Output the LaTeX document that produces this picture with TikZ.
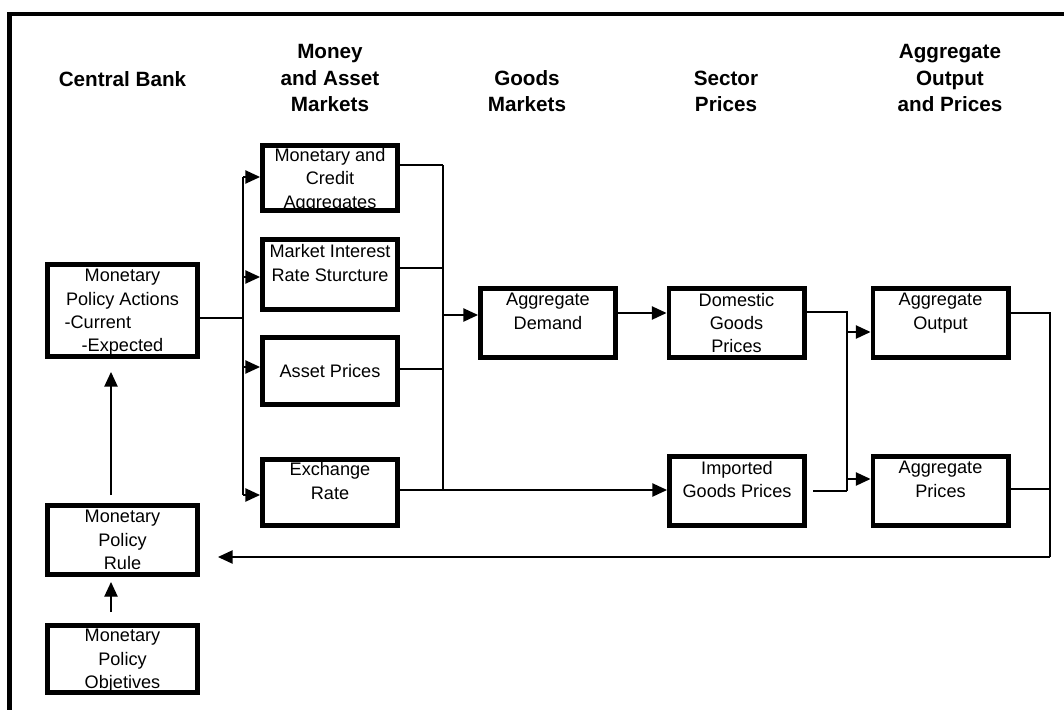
\documentclass[tikz,border=0pt]{standalone}
\usepackage{fontspec}
\setmainfont{Liberation Sans}
\usetikzlibrary{arrows.meta}

\tikzset{
  blk/.style={draw, line width=3.4pt, align=center, inner sep=0pt,
    minimum width=101.6pt, minimum height=52.1pt,
    font=\fontsize{13.6pt}{17.6pt}\selectfont},
  cbk/.style={blk, minimum width=112.8pt},
  hdr/.style={anchor=south, align=center, inner sep=0pt,
    font=\bfseries\fontsize{15.5pt}{19.8pt}\selectfont},
  wire/.style={line width=1pt},
}

\begin{document}
\begin{tikzpicture}[x=0.75pt,y=-0.75pt,>={Triangle[length=11pt,width=10pt]}]
\useasboundingbox (0,0) rectangle (1064,710);
% ---- frame, cut at the right and at the bottom ----
\draw[line width=3.6pt] (9.5,710) -- (9.5,14) -- (1064,14);
% ---- column heads ----
\node[hdr] (hcb)  at (122.5,87) {Central Bank};
\node[hdr] (hmam) at (330,112)  {Money\\and Asset\\Markets};
\node[hdr] (hgm)  at (527,112)  {Goods\\Markets};
\node[hdr] (hsp)  at (726,112)  {Sector\\Prices};
\node[hdr] (hao)  at (950,112)  {Aggregate\\Output\\and Prices};
% ---- central bank ----
\node[cbk, minimum height=69.3pt] (act) at (122.5,310.5)
  {Monetary\\Policy Actions\\-Current\hspace*{37pt}\mbox{}\\\smash{-Expected}};
\node[cbk] (rule) at (122.5,540) {Monetary\\Policy\\Rule};
\node[cbk, minimum height=50.6pt] (obj) at (122.5,659) {Monetary\\Policy\\\smash{Objetives}};
% ---- money and asset markets ----
\node[blk, minimum height=49.1pt] (mca) at (330,178)   {Monetary and\\Credit\\\smash{Aggregates}};
\node[blk, minimum height=52.8pt] (mir) at (330,274.5) {Market Interest\\Rate Sturcture\\~};
\node[blk, minimum height=50.6pt] (ap)  at (330,371)   {Asset Prices};
\node[blk, minimum height=49.8pt] (er)  at (330,492.5) {Exchange\\Rate\\~};
% ---- goods, sector and aggregate ----
\node[blk] (ad)  at (548,323)   {Aggregate\\Demand\\~};
\node[blk] (dom) at (736.5,323) {Domestic\\Goods\\Prices};
\node[blk] (imp) at (737,491)   {Imported\\Goods Prices\\~};
\node[blk] (out) at (940.5,323) {Aggregate\\Output\\~};
\node[blk] (pri) at (940.5,491) {Aggregate\\Prices\\~};

% ---- left bus: policy actions to the markets ----
\coordinate (lbt) at (243,177);
\coordinate (lbb) at (243,495);
\draw[wire] (lbt) -- (lbb);
\draw[wire] (act.east |- 0,318) -- (lbt |- 0,318);
\foreach \b/\y in {mca/177, mir/277, ap/367, er/495}
  \draw[wire,->] (lbt |- 0,\y) -- (\b.west |- 0,\y);
% ---- right bus: markets to goods ----
\coordinate (rbt) at (443,165);
\coordinate (rbb) at (443,490);
\draw[wire] (rbt) -- (rbb);
\foreach \b/\y in {mca/165, mir/268, ap/369}
  \draw[wire] (\b.east |- 0,\y) -- (rbt |- 0,\y);
\draw[wire,->] (er.east |- 0,490) -- (imp.west |- 0,490);
\draw[wire,->] (rbt |- 0,315) -- (ad.west |- 0,315);
\draw[wire,->] (ad.east |- 0,313) -- (dom.west |- 0,313);
% ---- sector prices to aggregates ----
\coordinate (sbt) at (847,312);
\coordinate (sbb) at (847,491);
\draw[wire] (dom.east |- sbt) -- (sbt) -- (sbb);
\draw[wire, shorten <=4.5pt] (imp.east |- sbb) -- (sbb);
\draw[wire,->] (sbt |- 0,332) -- (out.west |- 0,332);
\draw[wire,->] (sbt |- 0,479) -- (pri.west |- 0,479);
% ---- feedback to the rule ----
\coordinate (fbt) at (1050,313);
\coordinate (fbb) at (1050,557);
\draw[wire] (out.east |- fbt) -- (fbt) -- (fbb);
\draw[wire] (pri.east |- 0,489) -- (fbt |- 0,489);
\draw[wire,->, shorten >=13.5pt] (fbb) -- (rule.east |- fbb);
% ---- objectives, rule, actions ----
\draw[wire,->, shorten <=6pt, shorten >=9.75pt] (rule.north -| 111,0) -- (act.south -| 111,0);
\draw[wire,->, shorten <=8.25pt, shorten >=3.75pt] (obj.north -| 111,0) -- (rule.south -| 111,0);
\end{tikzpicture}
\end{document}
